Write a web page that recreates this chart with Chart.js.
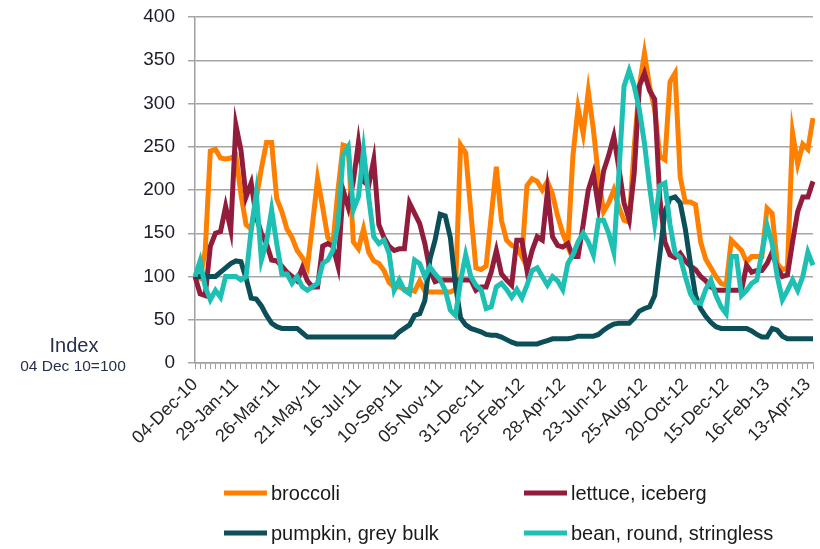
<!DOCTYPE html>
<html>
<head>
<meta charset="utf-8">
<script src="https://cdn.jsdelivr.net/npm/chart.js@4.4.1/dist/chart.umd.min.js"></script>
<style>
  html, body { margin: 0; padding: 0; background: #FFFFFF; }
  #wrap { position: relative; width: 820px; height: 549px; }
</style>
</head>
<body>
<div id="wrap"><canvas id="priceChart" width="820" height="549"></canvas></div>
<script>
// ============================================
// Vegetable price index — weekly, 04 Dec 10 = 100
// ============================================

const tickLabels = [
  '04-Dec-10', '29-Jan-11', '26-Mar-11', '21-May-11', '16-Jul-11', '10-Sep-11',
  '05-Nov-11', '31-Dec-11', '25-Feb-12', '28-Apr-12', '23-Jun-12', '25-Aug-12',
  '20-Oct-12', '15-Dec-12', '16-Feb-13', '13-Apr-13'
];

const seriesNames = ['broccoli', 'lettuce, iceberg', 'pumpkin, grey bulk', 'bean, round, stringless'];

const broccoli = [
  100, 98, 130, 245, 247, 237, 236, 237, 240, 195,
  160, 155, 190, 225, 255, 255, 190, 175, 155, 145,
  130, 122, 111, 160, 213, 180, 145, 138, 200, 252,
  250, 140, 132, 155, 128, 118, 115, 107, 93, 88,
  88, 85, 85, 83, 95, 83, 82, 82, 82, 82,
  82, 85, 252, 243, 175, 110, 108, 112, 170, 227,
  165, 142, 136, 134, 123, 205, 213, 210, 200, 210,
  195, 170, 150, 135, 240, 295, 265, 314, 270, 215,
  175, 185, 200, 180, 165, 163, 250, 320, 358, 320,
  293, 239, 235, 325, 335, 215, 186, 186, 183, 140,
  120, 110, 100, 92, 90, 142, 136, 130, 117, 123,
  123, 123, 179, 173, 115, 108, 110, 266, 230, 253,
  247, 283
];

const lettuce = [
  100, 80, 78, 135, 150, 152, 181, 154, 275, 246,
  192, 208, 169, 150, 138, 119, 118, 112, 105, 100,
  95, 110, 95, 88, 88, 135, 138, 135, 112, 200,
  180, 210, 255, 210, 205, 235, 160, 145, 135, 130,
  132, 132, 185, 173, 161, 138, 107, 94, 96, 96,
  96, 96, 96, 96, 96, 84, 88, 88, 105, 130,
  103, 96, 90, 142, 142, 107, 130, 146, 142, 198,
  146, 136, 134, 138, 123, 123, 160, 200, 219, 180,
  222, 240, 262, 225, 185, 166, 220, 320, 335, 315,
  305, 190, 140, 125, 122, 127, 118, 112, 108, 100,
  95, 88, 84, 84, 84, 84, 84, 84, 113, 105,
  107, 107, 115, 128, 110, 100, 102, 140, 175, 192,
  192, 210
];

const pumpkin = [
  100, 100, 100, 100, 100, 105, 110, 115, 118, 117,
  98, 75, 74, 66, 55, 46, 42, 40, 40, 40,
  40, 35, 30, 30, 30, 30, 30, 30, 30, 30,
  30, 30, 30, 30, 30, 30, 30, 30, 30, 30,
  36, 40, 44, 55, 57, 72, 120, 142, 172, 170,
  145, 90, 52, 44, 40, 38, 36, 33, 32, 32,
  30, 27, 24, 22, 22, 22, 22, 22, 24, 26,
  28, 28, 28, 28, 29, 31, 31, 31, 31, 33,
  38, 42, 45, 46, 46, 46, 52, 60, 63, 65,
  78, 125, 175, 190, 192, 185, 155, 115, 78, 63,
  54, 47, 42, 40, 40, 40, 40, 40, 40, 37,
  33, 30, 30, 40, 38, 31, 28, 28, 28, 28,
  28, 28
];

const bean = [
  100, 118, 88, 73, 84, 76, 100, 100, 100, 96,
  100, 154, 196, 119, 140, 177, 138, 103, 103, 92,
  100, 88, 84, 88, 92, 115, 119, 130, 161, 240,
  250, 177, 192, 246, 192, 146, 138, 142, 127, 84,
  96, 84, 80, 119, 115, 100, 111, 103, 96, 84,
  61, 55, 95, 125, 100, 90, 85, 63, 65, 88,
  92, 85, 76, 85, 75, 90, 107, 110, 100, 90,
  100, 95, 85, 115, 125, 140, 150, 140, 125, 165,
  165, 150, 128, 220, 320, 338, 320, 293, 254, 204,
  161, 205, 208, 160, 127, 122, 100, 80, 70, 69,
  85, 96, 78, 65, 57, 123, 123, 78, 84, 92,
  96, 128, 159, 138, 100, 73, 84, 96, 84, 100,
  128, 113
];

const seriesColors = ['#FF8000', '#921C3C', '#0C4F59', '#1EC0B4'];

// one category per week; only every 8th week carries a label
const labels = broccoli.map((_, i) => (i % 8 === 0 ? tickLabels[i / 8] : ''));

const FONT = '"Liberation Sans", Arial, sans-serif';

// legend in two columns + the "Index" caption
const extrasPlugin = {
  id: 'extras',
  afterDraw(chart) {
    const ctx = chart.ctx;
    ctx.save();
    const colX = [224, 524];
    const rowY = [493, 533];
    chart.data.datasets.forEach((ds, i) => {
      const x = colX[i % 2];
      const y = rowY[Math.floor(i / 2)];
      ctx.strokeStyle = ds.borderColor;
      ctx.lineWidth = 5;
      ctx.lineCap = 'butt';
      ctx.beginPath();
      ctx.moveTo(x, y);
      ctx.lineTo(x + 43, y);
      ctx.stroke();
      ctx.fillStyle = '#1a1a1a';
      ctx.font = '20px ' + FONT;
      ctx.textAlign = 'left';
      ctx.textBaseline = 'middle';
      ctx.fillText(ds.label, x + 47, y + 1);
    });

    ctx.fillStyle = '#26304a';
    ctx.textAlign = 'center';
    ctx.textBaseline = 'middle';
    ctx.font = '20px ' + FONT;
    ctx.fillText('Index', 74, 346);
    ctx.font = '15.5px ' + FONT;
    ctx.fillText('04 Dec 10=100', 73, 367);
    ctx.restore();
  }
};

const ctx = document.getElementById('priceChart').getContext('2d');

const datasets = [broccoli, lettuce, pumpkin, bean].map((values, i) => ({
  label: seriesNames[i],
  data: values,
  borderColor: seriesColors[i],
  backgroundColor: seriesColors[i],
  borderWidth: 5,
  tension: 0,
  pointRadius: 0,
  fill: false,
  order: 4 - i
}));

new Chart(ctx, {
  type: 'line',
  data: { labels: labels, datasets: datasets },
  options: {
    responsive: false,
    animation: false,
    layout: { padding: { top: 17, right: 7, left: 0, bottom: 0 } },
    plugins: {
      legend: { display: false },
      tooltip: { enabled: false }
    },
    scales: {
      x: {
        type: 'category',
        offset: false,
        grid: {
          drawOnChartArea: false,
          drawTicks: true,
          tickLength: 6,
          color: '#a0a0a0',
          lineWidth: 1
        },
        border: { display: true, color: '#a0a0a0', width: 1.5 },
        ticks: {
          autoSkip: false,
          maxRotation: 45,
          minRotation: 45,
          padding: 5,
          color: '#262626',
          font: { family: FONT, size: 18 },
          callback: function(value, index) {
            return labels[index];
          }
        },
        afterFit: function(scale) {
          scale.height = 186;
          scale.paddingLeft = 0;
          scale.paddingRight = 0;
        }
      },
      y: {
        min: 0,
        max: 400,
        grid: {
          color: '#a6a6a6',
          lineWidth: 1.5,
          drawTicks: true,
          tickLength: 7
        },
        border: { display: true, color: '#a0a0a0', width: 1.5 },
        ticks: {
          stepSize: 50,
          padding: 13,
          color: '#1c1c2a',
          font: { family: FONT, size: 19 }
        },
        afterFit: function(scale) {
          scale.width = 195;
          scale.paddingTop = 0;
          scale.paddingBottom = 0;
        }
      }
    }
  },
  plugins: [extrasPlugin]
});
</script>
</body>
</html>
